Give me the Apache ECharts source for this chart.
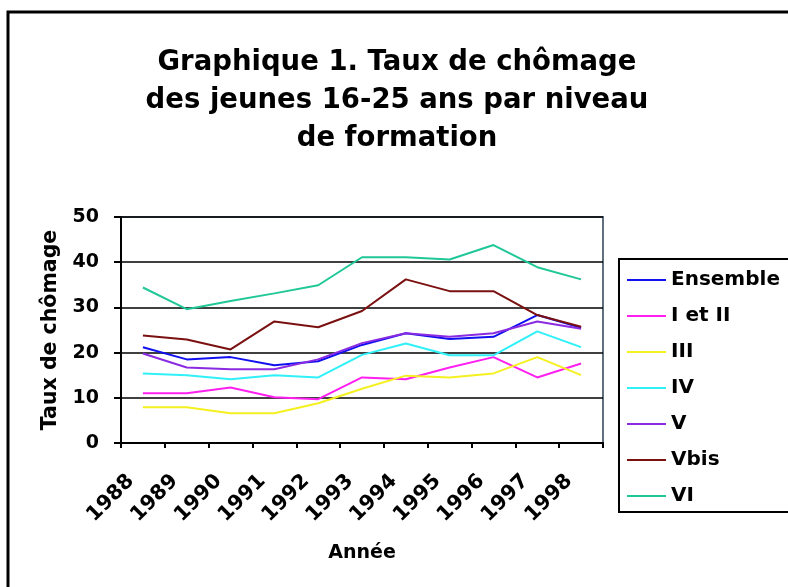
<!DOCTYPE html>
<html><head><meta charset="utf-8">
<script src="https://cdn.jsdelivr.net/npm/echarts@6/dist/echarts.min.js"></script>
<style>html,body{margin:0;padding:0;background:#fff}#c{width:788px;height:587px}</style>
</head><body><div id="c"></div>
<script>
const years = ['1988','1989','1990','1991','1992','1993','1994','1995','1996','1997','1998'];
const seriesNames = ['Ensemble','I et II','III','IV','V','Vbis','VI'];
const ensemble = [21.2,18.5,19.0,17.2,18.1,21.7,24.3,23.0,23.5,28.3,25.5];
const iEtII    = [11.0,11.0,12.3,10.1,9.7,14.5,14.1,16.7,19.0,14.5,17.6];
const iii      = [7.9,7.9,6.6,6.6,8.8,12.0,14.9,14.5,15.4,19.0,15.0];
const iv       = [15.4,15.0,14.1,15.0,14.5,19.5,22.0,19.4,19.4,24.7,21.2];
const v        = [19.8,16.7,16.3,16.3,18.5,22.1,24.3,23.5,24.3,26.9,25.3];
const vbis     = [23.8,22.9,20.7,26.9,25.6,29.2,36.2,33.6,33.6,28.3,25.7];
const vi       = [34.4,29.6,31.4,33.1,34.9,41.1,41.1,40.6,43.8,38.9,36.2];
const yTicks = [0,10,20,30,40,50];

const colors = ['#1010f0','#ff20f0','#f5f020','#30f0f8','#8a2be2','#7a1010','#20c898'];
const dataSets = [ensemble,iEtII,iii,iv,v,vbis,vi];
const font = 'DejaVu Sans, Verdana, sans-serif';

const chart = echarts.init(document.getElementById('c'));
chart.setOption({
  animation:false,
  backgroundColor:'#fff',
  title:{
    text:'Graphique 1. Taux de chômage\ndes jeunes 16-25 ans par niveau\nde formation',
    left:392, top:39, textAlign:'center',
    textStyle:{fontFamily:font,fontWeight:'bold',fontSize:27.5,lineHeight:38,color:'#000'}
  },
  graphic:[
    {type:'rect',shape:{x:8,y:12,width:800,height:600},style:{fill:null,stroke:'#000',lineWidth:3},z:-1},
    {type:'rect',shape:{x:619,y:259,width:200,height:253},style:{fill:'#fff',stroke:'#000',lineWidth:2},z:0}
  ],
  legend:{
    orient:'vertical', left:622, top:264, z:10,
    icon:'rect', itemWidth:39, itemHeight:2, itemGap:14,
    textStyle:{fontFamily:font,fontWeight:'bold',fontSize:20,color:'#000',lineHeight:22},
    data:seriesNames
  },
  grid:{left:121,right:185,top:217,bottom:144,show:true,borderColor:'#607080',borderWidth:2},
  xAxis:{
    type:'category', data:years, boundaryGap:true,
    name:'Année', nameLocation:'middle', nameGap:101,
    nameTextStyle:{fontFamily:font,fontWeight:'bold',fontSize:19,color:'#000'},
    axisLine:{lineStyle:{color:'#000',width:2}},
    axisTick:{show:true,length:5,lineStyle:{color:'#000',width:2}},
    axisLabel:{rotate:45,margin:23,padding:[0,17,0,0],fontFamily:font,fontWeight:'bold',fontSize:20.5,color:'#000'}
  },
  yAxis:{
    type:'value', min:0, max:50, interval:10,
    name:'Taux de chômage', nameLocation:'middle', nameGap:55, nameRotate:90,
    nameTextStyle:{fontFamily:font,fontWeight:'bold',fontSize:20.5,color:'#000'},
    axisLine:{show:true,lineStyle:{color:'#000',width:2}},
    axisTick:{show:true,length:7,lineStyle:{color:'#000',width:2}},
    axisLabel:{margin:22,fontFamily:font,fontWeight:'bold',fontSize:19,color:'#000',
      formatter:(val)=>yTicks.includes(val)?String(val):''},
    splitLine:{lineStyle:{color:'#000',width:1.5}}
  },
  series:seriesNames.map((n,i)=>({
    name:n, type:'line', data:dataSets[i], showSymbol:false, symbol:'none',
    lineStyle:{color:colors[i],width:2}, itemStyle:{color:colors[i]}
  }))
});
</script></body></html>
